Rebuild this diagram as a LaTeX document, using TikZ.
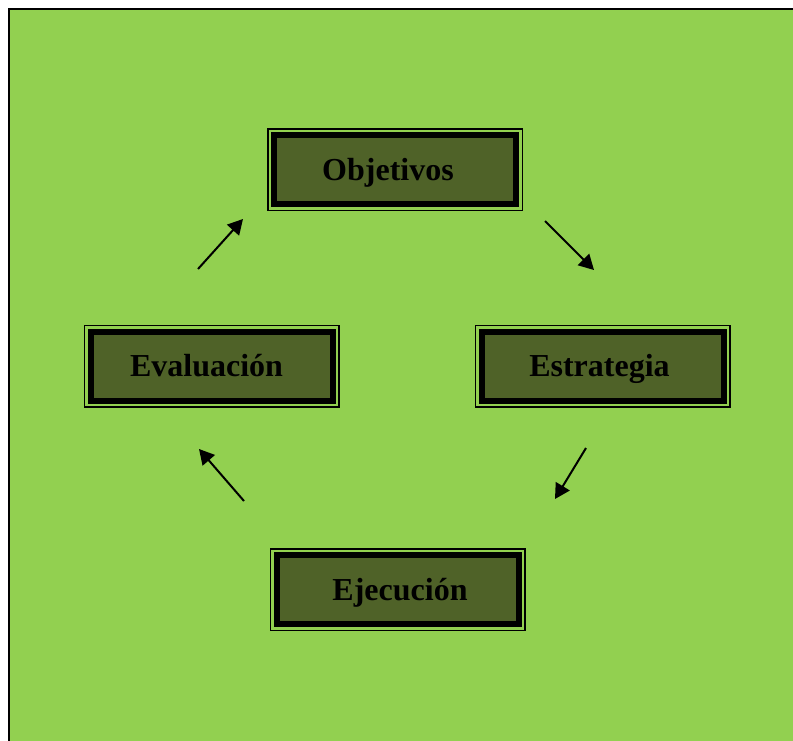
\documentclass[tikz,border=0pt]{standalone}
\usepackage{fontspec}
\setmainfont{Liberation Serif}
\usetikzlibrary{arrows.meta,calc}
\definecolor{bggreen}{HTML}{92D050}
\definecolor{olive}{HTML}{4F6228}
\tikzset{
  stagebox/.style={draw=black, line width=6pt, fill=olive, minimum width=242pt, minimum height=69pt, inner sep=0pt,
    text height=21pt, text depth=0pt,
    font=\fontsize{32}{36}\selectfont\bfseries, text=black},
  outerframe/.style={draw=black, line width=1.5pt},
  flowarrow/.style={line width=2pt, -{Triangle[length=15pt,width=16pt]}}
}
\newcommand{\frameit}[1]{\draw[outerframe] ($(#1.north west)+(-3.25pt,3.25pt)$) rectangle ($(#1.south east)+(3.25pt,-3.25pt)$);}
\begin{document}
\begin{tikzpicture}[x=1pt,y=-1pt]
\useasboundingbox (0,0) rectangle (793,740);
\fill[white] (0,0) rectangle (793,740);
\draw[fill=bggreen, line width=2pt] (9,9) rectangle (800,750);
\node[stagebox] (obj) at (395,169.5) {Objetivos\hspace*{14pt}};
\node[stagebox] (eva) at (211.5,366) {Evaluación\hspace*{10pt}};
\node[stagebox] (est) at (602.5,366) {Estrategia\hspace*{6pt}};
\node[stagebox] (eje) at (397.5,589.5) {\hspace*{5pt}Ejecución};
\frameit{obj}
\frameit{eva}
\frameit{est}
\frameit{eje}
\coordinate (a1s) at (198,269); \coordinate (a1e) at (243,219);
\coordinate (a2s) at (545,221); \coordinate (a2e) at (594,270);
\coordinate (a3s) at (586,448); \coordinate (a3e) at (555,499);
\coordinate (a4s) at (244,501); \coordinate (a4e) at (199,449);
\draw[flowarrow] (a1s) -- (a1e);
\draw[flowarrow] (a2s) -- (a2e);
\draw[flowarrow] (a3s) -- (a3e);
\draw[flowarrow] (a4s) -- (a4e);
\end{tikzpicture}
\end{document}
